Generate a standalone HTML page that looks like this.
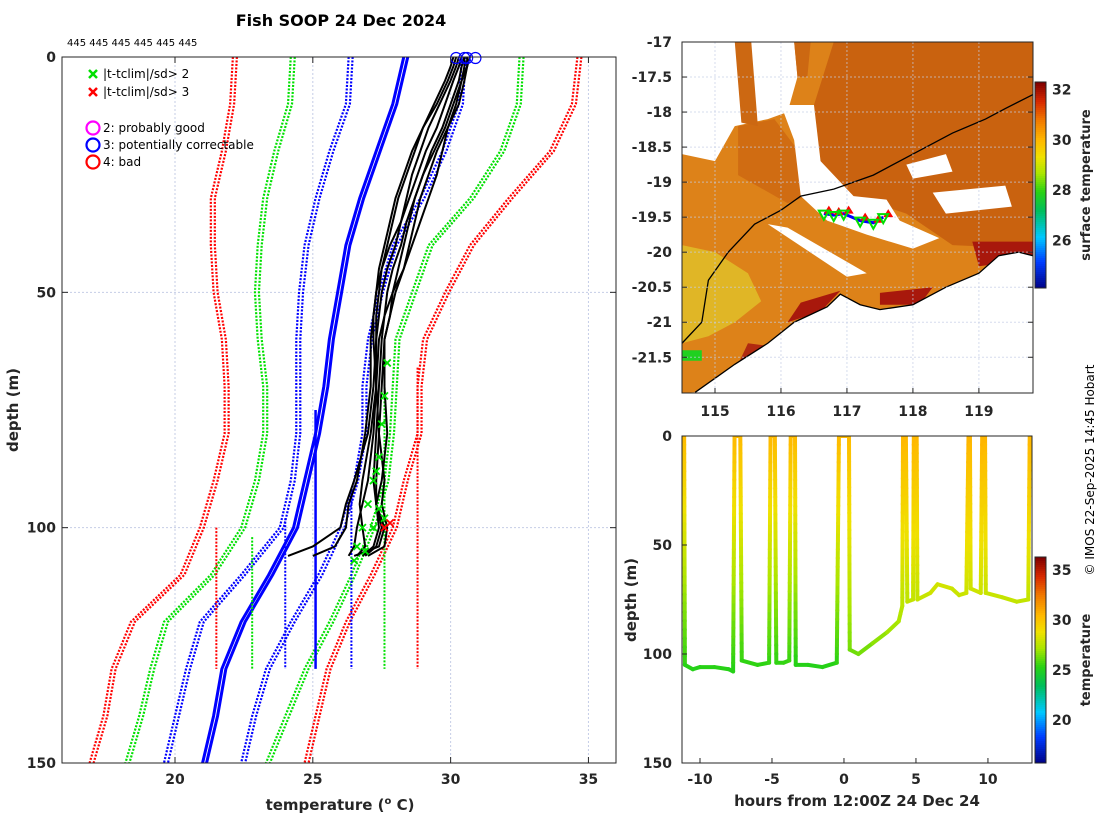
<!DOCTYPE html>
<html><head><meta charset="utf-8">
<style>
html,body{margin:0;padding:0;background:#fff;}
svg{display:block;font-family:"DejaVu Sans","Liberation Sans",sans-serif;}
.tk{font-size:14px;font-weight:bold;fill:#262626;}
</style></head>
<body>
<svg id="fig" width="1100" height="820" viewBox="0 0 1100 820" xmlns="http://www.w3.org/2000/svg"></svg>
<script>
// ---------- DATA: left profile panel ----------
const climDepths = [0,10,20,30,40,50,60,70,80,90,100,110,120,130,140,150];
const climRedLeft   = [22.1,22.0,21.7,21.3,21.3,21.4,21.7,21.8,21.8,21.4,20.9,20.2,18.4,17.7,17.4,16.9];
const climGreenLeft = [24.2,24.1,23.6,23.2,23.0,22.9,23.0,23.2,23.2,22.9,22.4,21.3,19.6,19.1,18.7,18.2];
const climBlueLeft  = [26.3,26.2,25.6,25.1,24.7,24.5,24.4,24.4,24.4,24.2,23.8,22.4,20.9,20.4,20.0,19.6];
const climMean      = [28.3,27.9,27.3,26.7,26.2,25.9,25.6,25.4,25.1,24.7,24.3,23.4,22.4,21.7,21.4,21.0];
const climBlueRight = [30.4,30.3,29.7,28.9,27.9,27.4,27.0,26.8,26.8,26.5,26.0,25.2,24.2,23.3,22.8,22.4];
const climGreenRight= [32.5,32.4,31.8,30.7,29.2,28.6,28.0,27.9,27.8,27.6,27.1,26.4,25.6,24.7,24.0,23.3];
const climRedRight  = [34.6,34.4,33.6,32.1,30.7,29.8,29.0,28.8,28.8,28.3,27.9,27.1,26.2,25.5,25.1,24.7];
const constVals   = [21.5,22.8,24.0,25.1,26.4,27.6,28.8];
const constStart  = [100,102,98,75,92,62,66];
const constEnd    = [130,130,130,130,130,130,130];
const constKinds  = ["red","green","blue","mean","blue","green","red"];
const profDepths = [0,2,5,10,15,20,25,30,35,40,45,50,55,60,70,80,90,95,100,104,106];
const profiles = [
 [30.5,30.5,30.4,30.1,29.8,29.4,29.0,28.7,28.4,28.2,27.9,27.7,27.6,27.5,27.4,27.3,27.2,27.3,27.6,27.4,26.5],
 [30.3,30.2,30.0,29.6,29.2,28.9,28.6,28.4,28.2,28.0,27.7,27.5,27.4,27.3,27.3,27.2,27.0,26.8,26.6,26.5,26.3],
 [30.6,30.6,30.4,30.2,29.9,29.7,29.5,29.2,28.9,28.6,28.3,27.9,27.6,27.4,27.3,27.4,27.6,27.5,27.7,27.6,27.0],
 [30.2,30.1,29.9,29.5,29.0,28.7,28.4,28.1,27.9,27.7,27.5,27.4,27.3,27.3,27.2,27.0,26.5,26.2,26.0,25.0,24.1],
 [30.4,30.3,30.1,29.8,29.5,29.1,28.8,28.5,28.2,27.8,27.5,27.3,27.2,27.1,27.1,26.9,26.6,26.3,26.2,25.8,25.0],
 [30.7,30.6,30.5,30.3,29.9,29.5,29.2,28.9,28.7,28.5,28.3,28.0,27.8,27.6,27.6,27.7,27.5,27.3,27.4,27.2,26.8],
 [30.1,30.0,29.8,29.4,29.0,28.6,28.3,28.0,27.8,27.6,27.4,27.3,27.2,27.2,27.3,27.1,26.8,26.7,26.8,26.9,26.6],
 [30.5,30.4,30.3,30.0,29.7,29.3,29.0,28.7,28.5,28.3,28.1,27.9,27.8,27.6,27.5,27.4,27.3,27.3,27.5,27.3,26.9]
];
const greenXT = [27.7,27.6,27.5,27.4,27.2,27.0,26.8,26.6,26.5,27.4,27.2,26.9,27.3,27.6];
const greenXD = [65,72,78,85,90,95,100,104,107,96,100,105,88,98];
const redXT = [27.8,27.6];
const redXD = [99,100];
const circT = [30.2,30.5,30.6,30.9];
const circD = [0,0,0,0];
const xTicksL = [20,25,30,35];
const yTicksL = [0,50,100,150];

// ---------- DATA: time-depth panel ----------
const tsHours = [-11.1,-11.05,-10.5,-10,-9,-8,-7.7,-7.6,-7.2,-7.1,-6,-5.2,-5.1,-4.8,-4.7,-4.2,-3.8,-3.7,-3.4,-3.35,-2.5,-1.5,-0.5,-0.35,0.35,0.4,1,2,3,3.8,4.05,4.1,4.3,4.4,4.8,4.85,5.05,5.1,6,6.5,7.5,8,8.5,8.65,8.75,8.8,9.5,9.6,9.8,9.85,11,12,12.8,12.9];
const tsDepth = [0,105,107,106,106,107,108,0,0,103,105,104,0,0,104,104,103,0,0,105,105,106,104,0,0,98,100,95,90,85,78,0,0,76,75,0,0,75,72,68,70,73,72,0,0,70,72,0,0,72,74,76,75,0];
const tsTemp  = [30.5,25.5,25.2,25.3,25.4,25.3,25.2,30.5,30.5,25.6,25.4,25.5,30.5,30.5,25.5,25.5,25.6,30.5,30.5,25.3,25.3,25.2,25.4,30.5,30.5,26.5,26.3,26.7,27.0,27.3,27.6,30.6,30.6,27.7,27.8,30.6,30.6,27.8,28.0,28.2,28.1,27.9,28.0,30.7,30.7,28.1,28.0,30.7,30.7,28.0,27.9,27.8,27.8,30.6];
const xTicksB = [-10,-5,0,5,10];
const yTicksB = [0,50,100,150];
const cbTicksB = [20,25,30,35];

// ---------- DATA: map ----------
const lonTicks = [115,116,117,118,119];
const latTicks = [-17,-17.5,-18,-18.5,-19,-19.5,-20,-20.5,-21,-21.5];
const cbTicksM = [26,28,30,32];
const patchDark = [[116.8,-17],[119.82,-17],[119.82,-19.95],[118.6,-19.9],[117.9,-19.45],[117.1,-19.2],[116.6,-18.7],[116.5,-17.9]];
const patchBand = [[115.35,-18.2],[115.9,-18.1],[116.7,-19.1],[116.1,-19.3],[115.35,-18.9]];
const patchStrip = [[115.3,-17],[115.55,-17],[115.65,-18.2],[115.4,-18.15]];
const patchStrip2 = [[116.2,-17],[116.45,-17],[116.4,-17.5],[116.25,-17.5]];
const patchYellow = [[114.5,-19.9],[115.0,-20.0],[115.5,-20.3],[115.7,-20.7],[115.3,-21.0],[114.9,-21.2],[114.5,-21.3]];
const patchGreen = [[114.5,-21.4],[114.8,-21.4],[114.8,-21.55],[114.5,-21.55]];
const whiteTopLeft = [[114.5,-17],[116.2,-17],[116.25,-17.5],[116.1,-18.0],[115.8,-18.1],[115.3,-18.2],[115.0,-18.7],[114.5,-18.6]];
const whiteGap = [[116.0,-17.9],[116.5,-17.9],[116.6,-18.7],[117.1,-19.2],[117.6,-19.25],[117.8,-19.55],[118.4,-19.8],[118.0,-19.95],[117.3,-19.75],[116.7,-19.55],[116.3,-19.2],[116.2,-18.4]];
const whiteStripe = [[115.8,-19.6],[116.1,-19.65],[117.3,-20.3],[117.0,-20.35]];
const whiteRight = [[118.3,-19.15],[119.4,-19.05],[119.5,-19.35],[118.5,-19.45]];
const whiteRight2 = [[117.9,-18.75],[118.5,-18.6],[118.6,-18.85],[118.0,-18.95]];
const patchRed1 = [[118.9,-19.85],[119.82,-19.85],[119.82,-20.1],[119.0,-20.2]];
const patchRed2 = [[117.5,-20.58],[118.3,-20.5],[118.1,-20.75],[117.5,-20.75]];
const patchRed3 = [[116.3,-20.72],[116.9,-20.55],[116.6,-20.85],[116.1,-21.0]];
const patchRed4 = [[115.5,-21.3],[115.9,-21.35],[115.7,-21.6],[115.3,-21.7]];
const coastLon = [114.7,115.0,115.3,115.8,116.2,116.7,116.9,117.2,117.5,118.0,118.5,119.0,119.3,119.6,119.82];
const coastLat = [-22.0,-21.8,-21.6,-21.3,-21.0,-20.78,-20.6,-20.75,-20.82,-20.75,-20.5,-20.3,-20.05,-20.0,-20.05];
const isoLon = [114.5,114.8,114.9,115.2,115.6,116.0,116.3,116.8,117.4,118.0,118.6,119.1,119.4,119.82];
const isoLat = [-21.3,-21.0,-20.4,-20.0,-19.6,-19.4,-19.2,-19.1,-18.9,-18.6,-18.3,-18.1,-17.95,-17.75];
const trackLon = [116.65,116.8,116.95,117.2,117.4,117.55];
const trackLat = [-19.45,-19.47,-19.45,-19.55,-19.58,-19.5];

// ---------- helpers ----------
const NS="http://www.w3.org/2000/svg";
const svg=document.getElementById('fig');
function mk(tag,attrs,parent){const e=document.createElementNS(NS,tag);for(const k in attrs)e.setAttribute(k,attrs[k]);(parent||svg).appendChild(e);return e;}
function txt(s,x,y,attrs,parent){const e=mk('text',Object.assign({x:x,y:y},attrs),parent);e.textContent=s;return e;}
const cmapStops=[[0,[0,0,130]],[0.13,[0,60,255]],[0.25,[0,200,255]],[0.38,[0,190,90]],[0.47,[40,210,20]],[0.56,[170,230,0]],[0.64,[240,225,0]],[0.72,[255,185,0]],[0.82,[240,120,0]],[0.91,[215,40,0]],[1,[128,0,0]]];
function cmap(t){t=Math.max(0,Math.min(1,t));
 for(let i=1;i<cmapStops.length;i++){if(t<=cmapStops[i][0]){const a=cmapStops[i-1],b=cmapStops[i];const f=(t-a[0])/(b[0]-a[0]);
  return `rgb(${a[1].map((v,k)=>Math.round(v+(b[1][k]-v)*f)).join(',')})`;}}
 return 'rgb(128,0,0)';}

// ---------- LEFT PANEL ----------
const L={x0:62,x1:616,y0:57,y1:763,tmin:15.9,tmax:36.0,dmax:150};
const xL=t=>L.x0+(t-L.tmin)/(L.tmax-L.tmin)*(L.x1-L.x0);
const yL=d=>L.y0+d/L.dmax*(L.y1-L.y0);
const gL=mk('g',{});


mk('defs',{}).innerHTML='<clipPath id="clipL"><rect x="62" y="57" width="554" height="706"/></clipPath><clipPath id="clipM"><rect x="682" y="42" width="351" height="351"/></clipPath><clipPath id="clipB"><rect x="682" y="436" width="351" height="327"/></clipPath>';
xTicksL.forEach(v=>{const l=mk('line',{x1:xL(v),x2:xL(v),y1:L.y0,y2:L.y1,stroke:'#c5cde6','stroke-dasharray':'2 2','stroke-width':1},gL);
 });
yTicksL.forEach(v=>{const l=mk('line',{x1:L.x0,x2:L.x1,y1:yL(v),y2:yL(v),stroke:'#c5cde6','stroke-dasharray':'2 2','stroke-width':1},gL);
 });
const cl=mk('g',{'clip-path':'url(#clipL)'},gL);
const colorOf={red:'#ff0000',green:'#00e000',blue:'#0000ff',mean:'#0000ff'};
function climLine(arr,kind,name){
 [0,1].forEach(k=>{
  const pts=arr.map((t,i)=>`${xL(t)+k*4},${yL(climDepths[i])}`).join(' ');
  const p=mk('polyline',{points:pts,fill:'none',stroke:colorOf[kind],'stroke-width':kind==='mean'?3:2.2,'stroke-dasharray':kind==='mean'?'none':'2 1.5'},cl);
  
  
 });
}
climLine(climRedLeft,'red','clim-minus-3sd');
climLine(climGreenLeft,'green','clim-minus-2sd');
climLine(climBlueLeft,'blue','clim-minus-1sd');
climLine(climBlueRight,'blue','clim-plus-1sd');
climLine(climGreenRight,'green','clim-plus-2sd');
climLine(climRedRight,'red','clim-plus-3sd');
climLine(climMean,'mean','clim-mean');
constVals.forEach((v,i)=>{
 const k=constKinds[i];
 const l=mk('line',{x1:xL(v),x2:xL(v),y1:yL(constStart[i]),y2:yL(constEnd[i]),stroke:colorOf[k],'stroke-width':k==='mean'?2.5:2,'stroke-dasharray':k==='mean'?'none':'2 1.5'},cl);
 
 
});
profiles.forEach((pr,j)=>{
 const pts=pr.map((t,i)=>`${xL(t)},${yL(profDepths[i])}`).join(' ');
 const p=mk('polyline',{points:pts,fill:'none',stroke:'#000','stroke-width':2},cl);
 
 
});
function xMark(t,d,col,name){
 const x=xL(t),y=yL(d),s=3.5;
 const g=mk('path',{d:`M${x-s},${y-s}L${x+s},${y+s}M${x-s},${y+s}L${x+s},${y-s}`,stroke:col,'stroke-width':1.8},cl);
 
 
}
greenXT.forEach((t,i)=>xMark(t,greenXD[i],'#00e000','flag-2sd-marker'));
redXT.forEach((t,i)=>xMark(t,redXD[i],'#ff0000','flag-3sd-marker'));
circT.forEach((t,i)=>{
 const c=mk('circle',{cx:xL(t),cy:yL(circD[i])+1,r:5.5,fill:'none',stroke:'#0000ff','stroke-width':1.2},gL);
 
 
});
let e=mk('rect',{x:L.x0,y:L.y0,width:L.x1-L.x0,height:L.y1-L.y0,fill:'none',stroke:'#262626','stroke-width':1},gL);


xTicksL.forEach(v=>{
 mk('line',{x1:xL(v),x2:xL(v),y1:L.y1,y2:L.y1-6,stroke:'#262626'},gL);
 mk('line',{x1:xL(v),x2:xL(v),y1:L.y0,y2:L.y0+6,stroke:'#262626'},gL);
 const t=txt(String(v),xL(v),784,{class:'tk','text-anchor':'middle'},gL);
 
});
yTicksL.forEach(v=>{
 mk('line',{x1:L.x0,x2:L.x0+6,y1:yL(v),y2:yL(v),stroke:'#262626'},gL);
 mk('line',{x1:L.x1,x2:L.x1-6,y1:yL(v),y2:yL(v),stroke:'#262626'},gL);
 const t=txt(String(v),56,yL(v)+5,{class:'tk','text-anchor':'end'},gL);
 
});
e=txt('Fish SOOP 24 Dec 2024',341,26,{'font-size':'16px','font-weight':'bold','text-anchor':'middle',fill:'#000'});

e=txt('445 445 445 445 445 445',67,46,{'font-size':'10px',fill:'#000'});

e=txt('depth (m)',18,410,{'font-size':'15px','font-weight':'bold','text-anchor':'middle',fill:'#262626',transform:'rotate(-90 18 410)'});

e=mk('text',{x:340,y:810,'font-size':'15px','font-weight':'bold','text-anchor':'middle',fill:'#262626'});
e.innerHTML='temperature (<tspan font-size="10px" dy="-6">o</tspan><tspan dy="6"> C)</tspan>';

const lg=mk('g',{});


function legX(y,col,label){
 const x=93;mk('path',{d:`M${x-4},${y-4}L${x+4},${y+4}M${x-4},${y+4}L${x+4},${y-4}`,stroke:col,'stroke-width':2.5},lg);
 const t=txt(label,103,y+4,{'font-size':'12px',fill:'#000'},lg);
 
}
legX(74,'#00e000','|t-tclim|/sd> 2');
legX(92,'#ff0000','|t-tclim|/sd> 3');
function legO(y,col,label){
 mk('circle',{cx:93,cy:y,r:6.5,fill:'none',stroke:col,'stroke-width':2.2},lg);
 const t=txt(label,103,y+4,{'font-size':'12px',fill:'#000'},lg);
 
}
legO(128,'#ff00ff','2: probably good');
legO(145,'#0000ff','3: potentially correctable');
legO(162,'#ff0000','4: bad');

// ---------- MAP PANEL ----------
const M={x0:682,x1:1033,y0:42,y1:393,lon0:114.5,lon1:119.82,lat0:-17,lat1:-22.01};
const xM=l=>M.x0+(l-M.lon0)/(M.lon1-M.lon0)*(M.x1-M.x0);
const yM=a=>M.y0+(a-M.lat0)/(M.lat1-M.lat0)*(M.y1-M.y0);
const gM=mk('g',{});


const mc=mk('g',{'clip-path':'url(#clipM)'},gM);
function patch(arr,col,name){
 const p=mk('polygon',{points:arr.map(q=>`${xM(q[0])},${yM(q[1])}`).join(' '),fill:col},mc);
 
 
}
e=mk('rect',{x:M.x0,y:M.y0,width:M.x1-M.x0,height:M.y1-M.y0,fill:'#dd8219'},mc);

patch(patchDark,'#c9620f','sst-patch-dark');
patch(whiteTopLeft,'#ffffff','cloud-gap');
patch(patchBand,'#d06c12','sst-patch-band');
patch(patchStrip,'#cc6812','sst-patch-strip');
patch(patchStrip2,'#cc6812','sst-patch-strip');
patch(whiteGap,'#ffffff','cloud-gap');
patch(whiteStripe,'#ffffff','cloud-gap');
patch(whiteRight,'#ffffff','cloud-gap');
patch(whiteRight2,'#ffffff','cloud-gap');
patch(patchYellow,'#e0b626','sst-patch-yellow');
patch(patchGreen,'#20d020','sst-patch-green');
patch(patchRed1,'#a8180c','sst-patch-red');
patch(patchRed2,'#a8180c','sst-patch-red');
patch(patchRed3,'#a8180c','sst-patch-red');
patch(patchRed4,'#b02a10','sst-patch-red');
const landPts=coastLon.map((l,i)=>`${xM(l)},${yM(coastLat[i])}`).join(' ')+` ${M.x1},${M.y1} ${M.x0},${M.y1}`;
e=mk('polygon',{points:landPts,fill:'#fff'},mc);

e=mk('polyline',{points:coastLon.map((l,i)=>`${xM(l)},${yM(coastLat[i])}`).join(' '),fill:'none',stroke:'#000','stroke-width':1.3},mc);

e=mk('polyline',{points:isoLon.map((l,i)=>`${xM(l)},${yM(isoLat[i])}`).join(' '),fill:'none',stroke:'#000','stroke-width':1.3},mc);

lonTicks.forEach(v=>{const l=mk('line',{x1:xM(v),x2:xM(v),y1:M.y0,y2:M.y1,stroke:'#c5cde6','stroke-dasharray':'2 2','stroke-opacity':0.7},mc);
 });
latTicks.forEach(v=>{const l=mk('line',{x1:M.x0,x2:M.x1,y1:yM(v),y2:yM(v),stroke:'#c5cde6','stroke-dasharray':'2 2','stroke-opacity':0.7},mc);
 });
e=mk('polyline',{points:trackLon.map((l,i)=>`${xM(l)},${yM(trackLat[i])}`).join(' '),fill:'none',stroke:'#0000ff','stroke-width':3},mc);

trackLon.forEach((l,i)=>{
 const x=xM(l),y=yM(trackLat[i]);
 const r=mk('polygon',{points:`${x+5},${y-8} ${x},${y} ${x+10},${y}`,fill:'#ff0000'},mc);
 
 const g=mk('polygon',{points:`${x-5},${y-3} ${x+5},${y-3} ${x},${y+6}`,fill:'none',stroke:'#00e000','stroke-width':2},mc);
 
});
e=mk('rect',{x:M.x0,y:M.y0,width:M.x1-M.x0,height:M.y1-M.y0,fill:'none',stroke:'#262626'},gM);

lonTicks.forEach(v=>{
 mk('line',{x1:xM(v),x2:xM(v),y1:M.y1,y2:M.y1-5,stroke:'#262626'},gM);
 const t=txt(String(v),xM(v),416,{class:'tk','text-anchor':'middle'},gM);
 
});
latTicks.forEach(v=>{
 mk('line',{x1:M.x0,x2:M.x0+5,y1:yM(v),y2:yM(v),stroke:'#262626'},gM);
 mk('line',{x1:M.x1,x2:M.x1-5,y1:yM(v),y2:yM(v),stroke:'#262626'},gM);
 const t=txt(String(v),672,yM(v)+5,{class:'tk','text-anchor':'end'},gM);
 
});
const CM={x:1035,w:11,y0:82,y1:288,vmax:32.3,vmin:24.1};
const yCM=v=>CM.y0+(CM.vmax-v)/(CM.vmax-CM.vmin)*(CM.y1-CM.y0);
for(let i=0;i<103;i++){const v0=CM.vmax-i*(CM.vmax-CM.vmin)/103;
 mk('rect',{x:CM.x,y:CM.y0+i*2,width:CM.w,height:2.3,fill:cmap((v0-CM.vmin)/(CM.vmax-CM.vmin))},gM);}
e=mk('rect',{x:CM.x,y:CM.y0,width:CM.w,height:CM.y1-CM.y0,fill:'none',stroke:'#262626'},gM);

cbTicksM.forEach(v=>{const t=txt(String(v),1052,yCM(v)+5,{class:'tk'},gM);
 });
e=txt('surface temperature',1090,185,{'font-size':'13px','font-weight':'bold','text-anchor':'middle',fill:'#262626',transform:'rotate(-90 1090 185)'});


// ---------- BOTTOM RIGHT PANEL ----------
const B={x0:682,x1:1032,y0:436,y1:763,h0:-11.25,h1:13.06,dmax:150};
const xB=h=>B.x0+(h-B.h0)/(B.h1-B.h0)*(B.x1-B.x0);
const yB=d=>B.y0+d/B.dmax*(B.y1-B.y0);
const CB={x:1035,w:11,y0:557,y1:763,vmax:36.3,vmin:15.7};
const cB=v=>cmap((v-CB.vmin)/(CB.vmax-CB.vmin));
const gB=mk('g',{});


const bc=mk('g',{'clip-path':'url(#clipB)'},gB);
for(let i=0;i<tsHours.length-1;i++){
 const n=Math.max(1,Math.round(Math.abs(tsDepth[i+1]-tsDepth[i])/4));
 for(let k=0;k<n;k++){
  const a=k/n,b=(k+1)/n;
  const h1=tsHours[i]+(tsHours[i+1]-tsHours[i])*a,h2=tsHours[i]+(tsHours[i+1]-tsHours[i])*b;
  const d1=tsDepth[i]+(tsDepth[i+1]-tsDepth[i])*a,d2=tsDepth[i]+(tsDepth[i+1]-tsDepth[i])*b;
  const tm=tsTemp[i]+(tsTemp[i+1]-tsTemp[i])*(a+b)/2;
  const s=mk('line',{x1:xB(h1),y1:yB(d1),x2:xB(h2),y2:yB(d2),stroke:cB(tm),'stroke-width':4,'stroke-linecap':'round'},bc);
  
  
 }
}
e=mk('rect',{x:B.x0,y:B.y0,width:B.x1-B.x0,height:B.y1-B.y0,fill:'none',stroke:'#262626'},gB);

xTicksB.forEach(v=>{
 mk('line',{x1:xB(v),x2:xB(v),y1:B.y1,y2:B.y1-5,stroke:'#262626'},gB);
 const t=txt(String(v),xB(v),784,{class:'tk','text-anchor':'middle'},gB);
 
});
yTicksB.forEach(v=>{
 mk('line',{x1:B.x0,x2:B.x0+5,y1:yB(v),y2:yB(v),stroke:'#262626'},gB);
 const t=txt(String(v),672,yB(v)+5,{class:'tk','text-anchor':'end'},gB);
 
});
for(let i=0;i<103;i++){const v0=CB.vmax-i*(CB.vmax-CB.vmin)/103;
 mk('rect',{x:CB.x,y:CB.y0+i*2,width:CB.w,height:2.3,fill:cB(v0)},gB);}
e=mk('rect',{x:CB.x,y:CB.y0,width:CB.w,height:CB.y1-CB.y0,fill:'none',stroke:'#262626'},gB);

cbTicksB.forEach(v=>{const y=CB.y0+(CB.vmax-v)/(CB.vmax-CB.vmin)*(CB.y1-CB.y0);
 const t=txt(String(v),1052,y+5,{class:'tk'},gB);
 });
e=txt('temperature',1090,660,{'font-size':'13px','font-weight':'bold','text-anchor':'middle',fill:'#262626',transform:'rotate(-90 1090 660)'});

e=txt('depth (m)',636,600,{'font-size':'15px','font-weight':'bold','text-anchor':'middle',fill:'#262626',transform:'rotate(-90 636 600)'});

e=txt('hours from 12:00Z 24 Dec 24',857,806,{'font-size':'15px','font-weight':'bold','text-anchor':'middle',fill:'#262626'});

e=txt('© IMOS 22-Sep-2025 14:45 Hobart',1094,470,{'font-size':'12px','text-anchor':'middle',fill:'#000',transform:'rotate(-90 1094 470)'});

</script>
</body></html>
